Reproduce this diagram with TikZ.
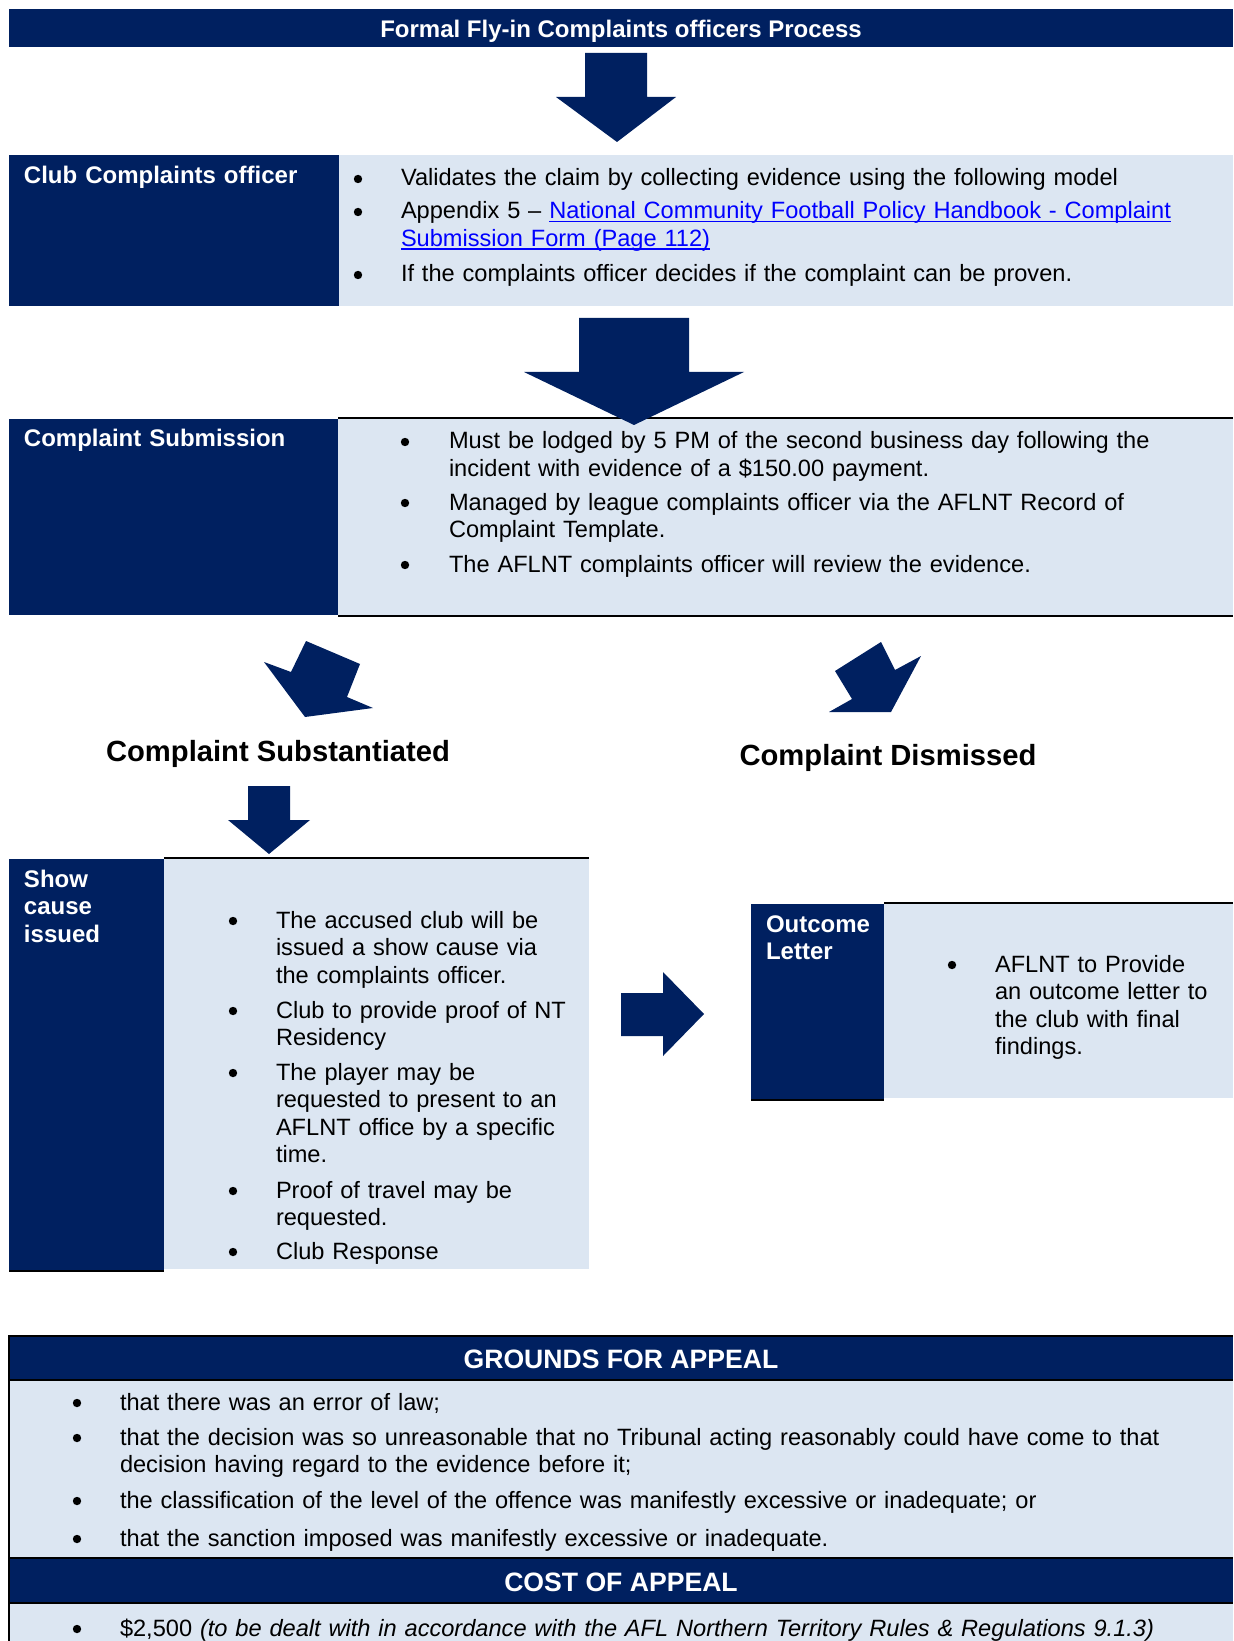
\documentclass[tikz,border=0pt]{standalone}
\usepackage{fontspec}
\setmainfont{Liberation Sans}
\definecolor{navy}{HTML}{002060}
\definecolor{paleblue}{HTML}{DCE6F2}
\definecolor{linkblue}{HTML}{0000FF}
\newcommand{\linkline}[1]{\textcolor{linkblue}{\setbox0\hbox{#1}\rlap{\rule[-1.6pt]{\wd0}{0.6pt}}\box0}}

\begin{document}
\begin{tikzpicture}[x=0.5pt, y=-0.5pt, inner sep=0pt, outer sep=0pt]
  \tikzstyle{darkbox} = [rectangle, fill=navy, anchor=north west]
  \tikzstyle{lightbox} = [rectangle, fill=paleblue, anchor=north west]
  \tikzstyle{label} = [text=white, anchor=base west, text width=70pt, align=left,
    font=\fontsize{12}{13.75}\selectfont\bfseries]
  \tikzstyle{banner} = [text=white, font=\fontsize{13.3}{16}\selectfont\bfseries]
  \tikzstyle{outcome} = [anchor=base, font=\fontsize{14.6}{17}\selectfont\bfseries]
  \tikzstyle{bul} = [circle, fill=black, minimum size=4.2pt, yshift=3.5pt]
  \tikzstyle{txt} = [anchor=base west, text width=480pt, align=left,
    font=\fontsize{11.8}{13.75}\selectfont]
  \tikzstyle{rule} = [draw=black, line width=1pt]
  \tikzstyle{blockarrow} = [fill=navy]

  \useasboundingbox (0,0) rectangle (1233,1641);

  % Place boxes
  \node [darkbox, minimum width=612pt, minimum height=19pt] (title) at (9,9) {};
  \node [banner, font=\fontsize{12}{14}\selectfont\bfseries, yshift=-1.5pt] (titletext)
    at (title.center) {Formal Fly-in Complaints officers Process};

  \node [darkbox, minimum width=165pt, minimum height=75.5pt] (clubhead) at (9,155) {};
  \node [lightbox, minimum width=447pt, minimum height=75.5pt] (clubbody) at (339,155) {};

  \node [darkbox, minimum width=164.5pt, minimum height=98pt] (subhead) at (9,419) {};
  \node [lightbox, minimum width=447.5pt, minimum height=99pt] (subbody) at (338,418) {};

  \node [darkbox, minimum width=77.5pt, minimum height=206pt] (showhead) at (9,859) {};
  \node [lightbox, minimum width=212.5pt, minimum height=205.5pt] (showbody) at (164,858) {};

  \node [darkbox, minimum width=66.5pt, minimum height=98pt] (outhead) at (751,904) {};
  \node [lightbox, minimum width=174.5pt, minimum height=97.5pt] (outbody) at (884,903) {};

  \node [darkbox, minimum width=612pt, minimum height=22pt] (grhead) at (9,1336) {};
  \node [lightbox, minimum width=612pt, minimum height=89pt] (grbody) at (9,1380) {};
  \node [darkbox, minimum width=612pt, minimum height=22.5pt] (costhead) at (9,1558) {};
  \node [lightbox, minimum width=612pt, minimum height=19pt] (costbody) at (9,1603) {};

  % Rules
  \draw [rule] (subbody.north west) -- (subbody.north east);
  \draw [rule] (subbody.south west) -- (subbody.south east);
  \draw [rule] (showbody.north west) -- (showbody.north east);
  \draw [rule] (showhead.south west) -- (showhead.south east);
  \draw [rule] (outbody.north west) -- (outbody.north east);
  \draw [rule] (outhead.south west) -- (outhead.south east);
  \draw [rule] (grhead.north east) -- (grhead.north west) -- (costbody.south west);
  \draw [rule] (grhead.south west) -- (grhead.south east);
  \draw [rule] (costhead.north west) -- (costhead.north east);
  \draw [rule] (costhead.south west) -- (costhead.south east);

  % Block arrows
  \fill [blockarrow] (585,53) -- (647,53) -- (647,97) -- (676,97) -- (617,142)
    -- (556,97) -- (585,97) -- cycle;
  \fill [blockarrow] (579,318) -- (689,318) -- (689,372) -- (744,372) -- (634,425)
    -- (524,372) -- (579,372) -- cycle;
  \fill [blockarrow] (306,641) -- (360,664) -- (347,697) -- (373,708) -- (305,717)
    -- (264,662) -- (291,672) -- cycle;
  \fill [blockarrow] (881,642) -- (895,670) -- (921,656) -- (891,712) -- (829,712)
    -- (852,699) -- (835,671) -- cycle;
  \fill [blockarrow] (248,786) -- (290,786) -- (290,820) -- (310,820) -- (269,854)
    -- (228,820) -- (248,820) -- cycle;
  \fill [blockarrow] (621,993) -- (663,993) -- (663,972) -- (704,1014) -- (663,1056)
    -- (663,1036) -- (621,1036) -- cycle;

  % Labels
  \node [label, text width=160pt] (clublabel) at (24,184) {Club Complaints officer};
  \node [label, text width=160pt] (sublabel) at (24,447) {Complaint Submission};
  \node [label] (showlabel) at (24,887) {Show\\cause\\issued};
  \node [label] (outlabel) at (766,932) {Outcome\\Letter};

  \node [outcome] (subst) at (278,761) {Complaint Substantiated};
  \node [outcome] (dism) at (888,765) {Complaint Dismissed};

  \node [banner, yshift=-0.5pt] (grtext) at (grhead.center) {GROUNDS FOR APPEAL};
  \node [banner, yshift=-1pt] (costtext) at (costhead.center) {COST OF APPEAL};

  % Club complaints officer
  \node [bul] (cb1) at (358,186) {};
  \node [txt] (c1) at (401,186) {Validates the claim by collecting evidence using the following model};
  \node [bul] (cb2) at (358,219) {};
  \node [txt] (c2) at (401,219) {Appendix 5 -- \linkline{National Community Football Policy
    Handbook - Complaint}\\\linkline{Submission Form (Page 112)}};
  \node [bul] (cb3) at (358,282) {};
  \node [txt] (c3) at (401,282) {If the complaints officer decides if the complaint can be proven.};

  % Complaint submission
  \node [bul] (sb1) at (405,449) {};
  \node [txt] (s1) at (449,449) {Must be lodged by 5 PM of the second business day following the\\
    incident with evidence of a \$150.00 payment.};
  \node [bul] (sb2) at (405,510) {};
  \node [txt] (s2) at (449,510) {Managed by league complaints officer via the AFLNT Record of\\
    Complaint Template.};
  \node [bul] (sb3) at (405,572) {};
  \node [txt] (s3) at (449,572) {The AFLNT complaints officer will review the evidence.};

  % Show cause issued
  \node [bul] (scb1) at (233,928) {};
  \node [txt] (sc1) at (276,928) {The accused club will be\\issued a show cause via\\the complaints officer.};
  \node [bul] (scb2) at (233,1018) {};
  \node [txt] (sc2) at (276,1018) {Club to provide proof of NT\\Residency};
  \node [bul] (scb3) at (233,1080) {};
  \node [txt] (sc3) at (276,1080) {The player may be\\requested to present to an\\AFLNT office by a specific\\time.};
  \node [bul] (scb4) at (233,1198) {};
  \node [txt] (sc4) at (276,1198) {Proof of travel may be\\requested.};
  \node [bul] (scb5) at (233,1259) {};
  \node [txt] (sc5) at (276,1259) {Club Response};

  % Outcome letter
  \node [bul] (ob1) at (952,972) {};
  \node [txt] (o1) at (995,972) {AFLNT to Provide\\an outcome letter to\\the club with final\\findings.};

  % Grounds and cost of appeal
  \node [bul] (gb1) at (77,1410) {};
  \node [txt] (g1) at (120,1410) {that there was an error of law;};
  \node [bul] (gb2) at (77,1445) {};
  \node [txt, text width=560pt] (g2) at (120,1445) {that the decision was so unreasonable that no Tribunal acting
    reasonably could have come to that\\decision having regard to the evidence before it;};
  \node [bul] (gb3) at (77,1508) {};
  \node [txt] (g3) at (120,1508) {the classification of the level of the offence was manifestly
    excessive or inadequate; or};
  \node [bul] (gb4) at (77,1546) {};
  \node [txt] (g4) at (120,1546) {that the sanction imposed was manifestly excessive or inadequate.};
  \node [bul] (kb1) at (77,1636) {};
  \node [txt, text width=560pt] (k1) at (120,1636) {\$2,500 \textit{(to be dealt with in accordance
    with the AFL Northern Territory Rules \& Regulations 9.1.3)}};
\end{tikzpicture}
\end{document}
